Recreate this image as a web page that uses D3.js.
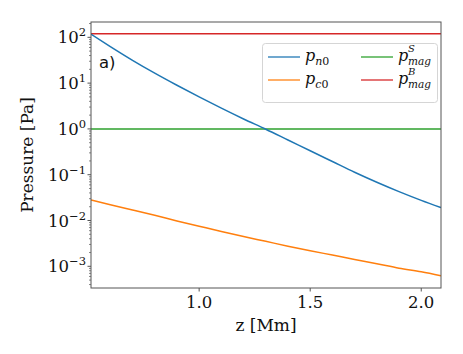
<!DOCTYPE html>
<html><head><meta charset="utf-8">
<script src="https://cdn.jsdelivr.net/npm/d3@7"></script>
<style>body{margin:0;background:#fff}svg{display:block}</style>
</head><body>
<svg id="c" width="463" height="354"></svg>
<script>
const z = [0.513,0.6,0.7,0.8,0.9,1.0,1.1,1.2,1.3,1.4,1.5,1.6,1.7,1.8,1.9,2.0,2.089];
const pn0 = [117,62.8,31.5,16.5,8.97,4.99,2.84,1.65,0.984,0.573,0.333,0.194,0.113,0.0684,0.0427,0.0275,0.0191];
const pc0 = [0.0281,0.0221,0.0170,0.0130,0.0098,0.0075,0.00575,0.00447,0.00351,0.00275,0.00219,0.00176,0.00141,0.00114,0.00091,0.00076,0.000624];
const pmagS = 1.0;
const pmagB = 120;
const xTicks = [1.0,1.5,2.0];
const yTickExp = [-3,-2,-1,0,1,2];
const xDomain = [0.513,2.089];
const yDomain = [3.36e-4,216];

const svg = d3.select("#c");
const L=91,R=441,T=22,B=288;
const x = d3.scaleLinear().domain(xDomain).range([L,R]);
const y = d3.scaleLog().domain(yDomain).range([B,T]);
const g = svg.append("g");
svg.append("defs").append("clipPath").attr("id","cp").append("rect")
  .attr("x",L).attr("y",T).attr("width",R-L).attr("height",B-T);

const line = d3.line().x(d=>x(d[0])).y(d=>y(d[1])).curve(d3.curveMonotoneX);
const plot = g.append("g").attr("clip-path","url(#cp)");
const series = [
  {data:z.map((v,i)=>[v,pn0[i]]),color:"#1f77b4"},
  {data:z.map((v,i)=>[v,pc0[i]]),color:"#ff7f0e"},
  {data:[[xDomain[0],pmagS],[xDomain[1],pmagS]],color:"#2ca02c"},
  {data:[[xDomain[0],pmagB],[xDomain[1],pmagB]],color:"#d62728"}
];
[series[2],series[3],series[0],series[1]].forEach(s=>{
  plot.append("path").datum(s.data).attr("d",line).attr("fill","none")
   .attr("stroke",s.color).attr("stroke-width",1.5);
});

g.append("rect").attr("x",L).attr("y",T).attr("width",R-L).attr("height",B-T)
  .attr("fill","none").attr("stroke","#555").attr("stroke-width",1);

const font = "'DejaVu Serif', serif";
xTicks.forEach(t=>{
  g.append("line").attr("x1",x(t)).attr("x2",x(t)).attr("y1",B).attr("y2",B+3.5).attr("stroke","#555");
  g.append("text").attr("x",x(t)).attr("y",308).attr("text-anchor","middle")
   .attr("font-family",font).attr("font-size",16.5).attr("fill","#111").text(d3.format(".1f")(t));
});
for(let e=-4;e<=2;e++){
  for(let m=2;m<=9;m++){
    const v=m*Math.pow(10,e);
    if(v<yDomain[0]||v>yDomain[1]) continue;
    g.append("line").attr("x1",L).attr("x2",L-2).attr("y1",y(v)).attr("y2",y(v)).attr("stroke","#555").attr("stroke-width",0.7);
  }
}
yTickExp.forEach(e=>{
  const v=Math.pow(10,e);
  g.append("line").attr("x1",L).attr("x2",L-3.5).attr("y1",y(v)).attr("y2",y(v)).attr("stroke","#555");
  const txt = g.append("text").attr("x",86).attr("y",y(v)+6).attr("text-anchor","end")
   .attr("font-family",font).attr("font-size",16.5).attr("fill","#111");
  txt.append("tspan").text("10");
  txt.append("tspan").attr("font-size",11.5).attr("dy",-7).text(e<0?"\u2212"+(-e):String(e));
});

g.append("text").attr("x",(L+R)/2).attr("y",331).attr("text-anchor","middle")
  .attr("font-family",font).attr("font-size",17).attr("fill","#111").text("z [Mm]");
g.append("text").attr("transform",`translate(33,${(T+B)/2}) rotate(-90)`).attr("text-anchor","middle")
  .attr("font-family",font).attr("font-size",17).attr("fill","#111").text("Pressure [Pa]");

g.append("text").attr("x",99).attr("y",68).attr("font-family","'DejaVu Sans', sans-serif")
  .attr("font-size",16.5).attr("fill","#111").text("a)");

const lg = g.append("g");
lg.append("rect").attr("x",262.5).attr("y",43.5).attr("width",175).attr("height",59).attr("rx",3)
  .attr("fill","#fff").attr("fill-opacity",0.8).attr("stroke","#d5d5d5");
const ent = [
  {c:"#1f77b4",x:268,y:57,sub:[["n","italic"],["0","normal"]],sup:null},
  {c:"#ff7f0e",x:268,y:80,sub:[["c","italic"],["0","normal"]],sup:null},
  {c:"#2ca02c",x:361,y:57,sub:[["mag","italic"]],sup:"S"},
  {c:"#d62728",x:361,y:80,sub:[["mag","italic"]],sup:"B"}
];
ent.forEach(e=>{
  lg.append("line").attr("x1",e.x).attr("x2",e.x+32).attr("y1",e.y).attr("y2",e.y)
    .attr("stroke",e.c).attr("stroke-width",1.5).attr("stroke-opacity",0.85);
  const t = lg.append("text").attr("x",e.x+37).attr("y",e.y+4)
    .attr("font-family",font).attr("font-style","italic").attr("font-size",16).attr("fill","#111");
  t.append("tspan").text("p");
  const px = e.x+37+10;
  if(e.sup){
    const sb = lg.append("text").attr("x",px).attr("y",e.y+7.5)
      .attr("font-family",font).attr("font-style","italic").attr("font-size",10.5).attr("fill","#111");
    e.sub.forEach(s=>sb.append("tspan").attr("font-style",s[1]).text(s[0]));
    lg.append("text").attr("x",px).attr("y",e.y-5)
      .attr("font-family",font).attr("font-style","italic").attr("font-size",10).attr("fill","#111").text(e.sup);
  } else {
    e.sub.forEach((s,i)=>{
      const ts = t.append("tspan").attr("font-size",11).attr("font-style",s[1]).text(s[0]);
      if(i===0){ ts.attr("dy",3.5); }
    });
  }
});
</script>
</body></html>
